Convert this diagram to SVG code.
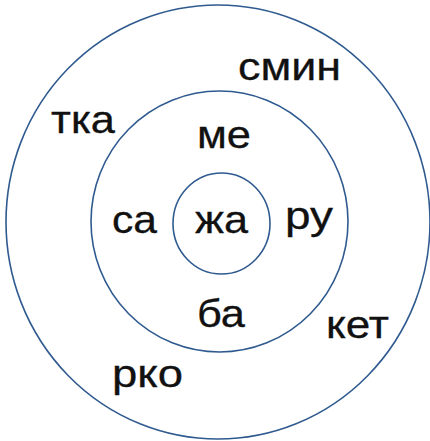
<svg xmlns="http://www.w3.org/2000/svg" width="430" height="441" viewBox="0 0 430 441">
<style>
.ring{fill:none;stroke:#2f5a8f;stroke-width:1.6}
.t{font-family:"Liberation Sans",Arial,sans-serif;font-size:39px;fill:#111;stroke:#111;stroke-width:0.3}
</style>
<rect width="430" height="441" fill="#fff"/>
<g id="rings">
<ellipse id="outer" class="ring" cx="218" cy="222" rx="212" ry="217"/>
<ellipse id="middle" class="ring" cx="219.5" cy="221.5" rx="128.5" ry="130.5"/>
<ellipse id="inner" class="ring" cx="221.5" cy="223.5" rx="48.5" ry="50.5"/>
</g>
<g id="labels">
<text class="t" x="238" y="80" textLength="103" lengthAdjust="spacingAndGlyphs">смин</text>
<text class="t" x="51" y="133" textLength="64" lengthAdjust="spacingAndGlyphs">тка</text>
<text class="t" x="197" y="148" textLength="54" lengthAdjust="spacingAndGlyphs">ме</text>
<text class="t" x="112" y="233" textLength="45" lengthAdjust="spacingAndGlyphs">са</text>
<text class="t" x="195" y="233" textLength="53" lengthAdjust="spacingAndGlyphs">жа</text>
<text class="t" x="285" y="229" textLength="48" lengthAdjust="spacingAndGlyphs">ру</text>
<text class="t" x="197" y="327" textLength="48" lengthAdjust="spacingAndGlyphs">ба</text>
<text class="t" x="326" y="338" textLength="63" lengthAdjust="spacingAndGlyphs">кет</text>
<text class="t" x="112" y="387" textLength="71" lengthAdjust="spacingAndGlyphs">рко</text>
</g>
</svg>
